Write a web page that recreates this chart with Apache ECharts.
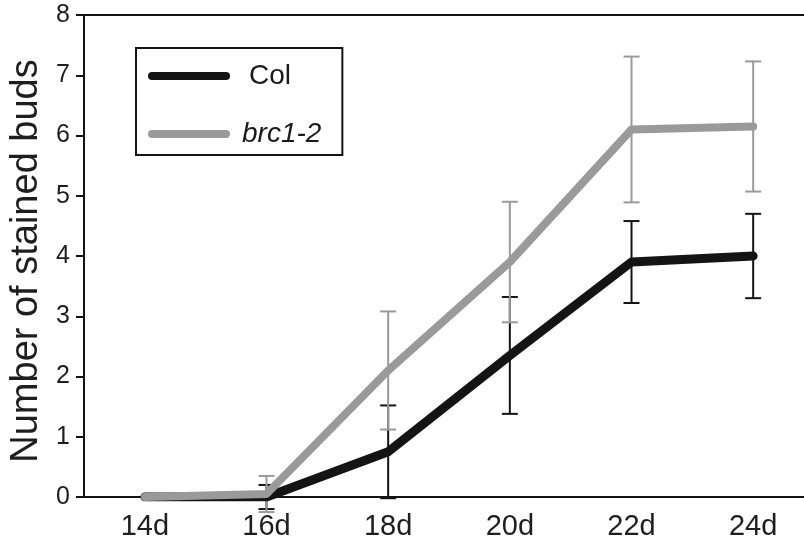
<!DOCTYPE html>
<html>
<head>
<meta charset="utf-8">
<script src="https://cdn.jsdelivr.net/npm/echarts@6/dist/echarts.min.js"></script>
<style>
html,body{margin:0;padding:0;background:#fff;}
#chart{width:804px;height:551px;}
</style>
</head>
<body>
<div id="chart"></div>
<script>
// ---- data ----
const categories = ['14d', '16d', '18d', '20d', '22d', '24d'];
const colValues = [0, 0, 0.75, 2.35, 3.9, 4.0];
const colErrors = [0, 0.2, 0.77, 0.97, 0.68, 0.7];
const brcValues = [0, 0.05, 2.1, 3.9, 6.1, 6.15];
const brcErrors = [0, 0.3, 0.98, 1.0, 1.21, 1.08];
const yTicks = [0, 1, 2, 3, 4, 5, 6, 7, 8];
const seriesNames = ['Col', 'brc1-2'];
const yTitle = 'Number of stained buds';

const FONT = '"Liberation Sans", Arial, Helvetica, sans-serif';
const BLACK = '#141414';
const GRAY = '#9a9a9a';

function errData(vals, errs) {
  return vals.map((v, i) => [i, v, errs[i]]);
}
function errRender(color) {
  return function (params, api) {
    const x = api.value(0), v = api.value(1), e = api.value(2);
    if (!e) return null;
    const hi = api.coord([x, v + e]);
    const lo = api.coord([x, v - e]);
    const w = 8;
    const st = { stroke: color, lineWidth: 2 };
    return {
      type: 'group',
      children: [
        { type: 'line', shape: { x1: hi[0], y1: hi[1], x2: lo[0], y2: lo[1] }, style: st },
        { type: 'line', shape: { x1: hi[0] - w, y1: hi[1], x2: hi[0] + w, y2: hi[1] }, style: st },
        { type: 'line', shape: { x1: lo[0] - w, y1: lo[1], x2: lo[0] + w, y2: lo[1] }, style: st }
      ]
    };
  };
}

const chart = echarts.init(document.getElementById('chart'), null, { renderer: 'canvas' });
const capsule = 'path://M4,0 L78,0 A4,4 0 0 1 78,8 L4,8 A4,4 0 0 1 4,0 Z';

chart.setOption({
  animation: false,
  backgroundColor: '#fff',
  textStyle: { fontFamily: FONT },
  grid: {
    left: 84, top: 15, bottom: 54, right: -10,
    containLabel: false,
    outerBoundsMode: 'none',
    show: true, borderWidth: 2, borderColor: BLACK, backgroundColor: 'transparent'
  },
  legend: {
    orient: 'vertical',
    left: 136, top: 48,
    padding: [14, 21, 7, 12],
    itemGap: 30,
    itemWidth: 82, itemHeight: 8,
    borderColor: BLACK, borderWidth: 2,
    data: [
      { name: seriesNames[0], icon: capsule },
      { name: seriesNames[1], icon: capsule }
    ],
    formatter: function (name) {
      return name === seriesNames[0] ? '{a|' + name + '}' : '{b|' + name + '}';
    },
    textStyle: {
      fontFamily: FONT, color: '#1a1a1a',
      rich: {
        a: { fontFamily: FONT, fontSize: 28, lineHeight: 30, color: '#1a1a1a', padding: [0, 0, 0, 14] },
        b: { fontFamily: FONT, fontSize: 28, lineHeight: 30, color: '#1a1a1a', fontStyle: 'italic', padding: [0, 0, 0, 7] }
      }
    }
  },
  xAxis: {
    type: 'category',
    data: categories,
    boundaryGap: true,
    axisLine: { show: true, lineStyle: { color: BLACK, width: 2 } },
    axisTick: { show: false },
    axisLabel: { fontFamily: FONT, fontSize: 29, color: '#1e1e1e', margin: 15 },
    splitLine: { show: false }
  },
  yAxis: {
    type: 'value',
    min: yTicks[0], max: yTicks[yTicks.length - 1], interval: 1,
    name: yTitle,
    nameLocation: 'middle',
    nameGap: 34,
    nameTextStyle: { fontFamily: FONT, fontSize: 38, color: '#1e1e1e', padding: [0, 10, 0, 0] },
    axisLine: { show: true, lineStyle: { color: BLACK, width: 2 } },
    axisTick: { show: true, inside: false, length: 8, lineStyle: { color: BLACK, width: 2 } },
    axisLabel: { fontFamily: FONT, fontSize: 25, color: '#1e1e1e', margin: 14 },
    splitLine: { show: false }
  },
  series: [
    {
      type: 'custom', name: 'colErr', z: 1,
      renderItem: errRender(BLACK),
      encode: { x: 0, y: 1 },
      data: errData(colValues, colErrors)
    },
    {
      type: 'custom', name: 'brcErr', z: 1,
      renderItem: errRender(GRAY),
      encode: { x: 0, y: 1 },
      data: errData(brcValues, brcErrors)
    },
    {
      type: 'line', name: seriesNames[0], z: 3,
      data: colValues,
      color: BLACK,
      showSymbol: false, symbol: 'none',
      lineStyle: { color: BLACK, width: 9, cap: 'round', join: 'round' },
      itemStyle: { color: BLACK }
    },
    {
      type: 'line', name: seriesNames[1], z: 4,
      data: brcValues,
      color: GRAY,
      showSymbol: false, symbol: 'none',
      lineStyle: { color: GRAY, width: 8, cap: 'round', join: 'round' },
      itemStyle: { color: GRAY }
    }
  ]
});
</script>
</body>
</html>
